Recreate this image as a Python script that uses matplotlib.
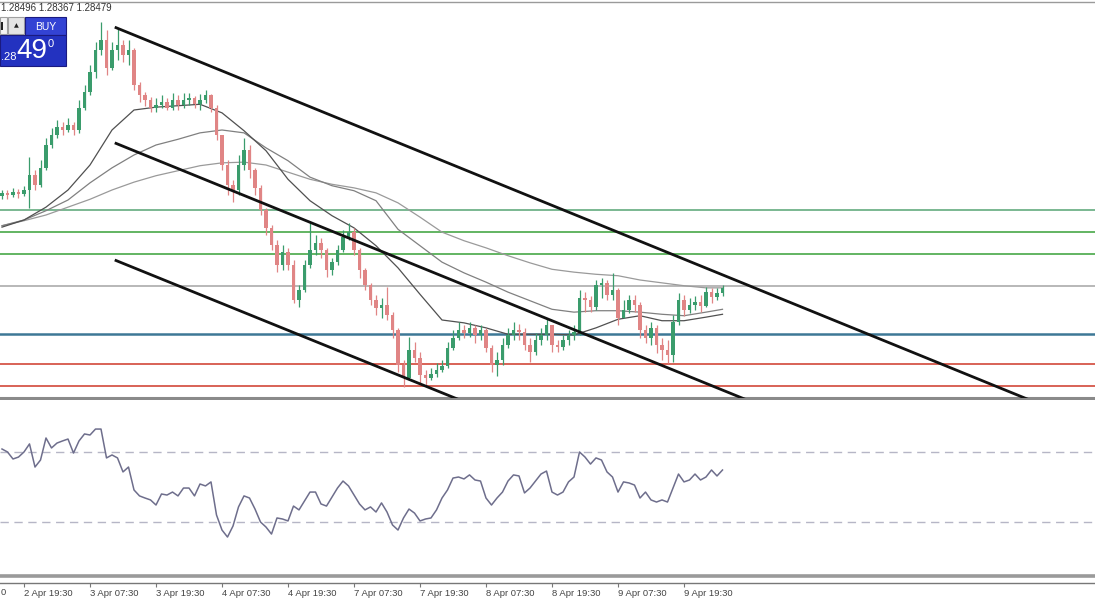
import numpy as np
import matplotlib
matplotlib.use("Agg")
import matplotlib.pyplot as plt
from matplotlib.patches import Rectangle

plt.rcParams['font.family'] = ['Liberation Sans', 'DejaVu Sans']

# GBPUSD hourly bars, bar 0 = 2 Apr 19:30, first bar = -4
first_open = 1.2981
closes = [
    1.2985, 1.2982, 1.2986, 1.2983, 1.2989, 1.3010, 1.2996, 1.3020, 1.3052, 1.3066,
    1.3077, 1.3073, 1.3080, 1.3073, 1.3104, 1.3126, 1.3154, 1.3185, 1.3199, 1.3160,
    1.3185, 1.3192, 1.3178, 1.3185, 1.3136, 1.3122, 1.3115, 1.3104, 1.3108, 1.3112,
    1.3104, 1.3115, 1.3108, 1.3115, 1.3118, 1.3109, 1.3115, 1.3122, 1.3104, 1.3066,
    1.3024, 1.2996, 1.2989, 1.3024, 1.3045, 1.3017, 1.2992, 1.2961, 1.2936, 1.2912,
    1.2884, 1.2902, 1.2884, 1.2835, 1.2849, 1.2884, 1.2905, 1.2915, 1.2905, 1.2877,
    1.2888, 1.2905, 1.2923, 1.2930, 1.2905, 1.2877, 1.2856, 1.2835, 1.2824, 1.2828,
    1.2814, 1.2793, 1.2744, 1.2726, 1.2765, 1.2754, 1.2730, 1.2726, 1.2731, 1.2737,
    1.2743, 1.2768, 1.2782, 1.2793, 1.2789, 1.2796, 1.2786, 1.2793, 1.2768, 1.2744,
    1.2751, 1.2772, 1.2786, 1.2793, 1.2790, 1.2772, 1.2762, 1.2779, 1.2786, 1.2800,
    1.2772, 1.2769, 1.2779, 1.2786, 1.2790, 1.2838, 1.2835, 1.2825, 1.2856, 1.2859,
    1.2842, 1.2849, 1.2810, 1.2821, 1.2835, 1.2828, 1.2793, 1.2782, 1.2796, 1.2772,
    1.2765, 1.2758, 1.2804, 1.2835, 1.2821, 1.2828, 1.2832, 1.2827, 1.2846, 1.2839,
    1.2845, 1.2852,
]
highs = [
    1.2989, 1.2989, 1.2992, 1.2990, 1.2995, 1.3035, 1.3017, 1.3031, 1.3062, 1.3076,
    1.3087, 1.3084, 1.3090, 1.3084, 1.3115, 1.3136, 1.3164, 1.3196, 1.3224, 1.3213,
    1.3196, 1.3216, 1.3199, 1.3199, 1.3188, 1.3140, 1.3126, 1.3119, 1.3118, 1.3122,
    1.3118, 1.3125, 1.3122, 1.3125, 1.3125, 1.3121, 1.3123, 1.3129, 1.3123, 1.3108,
    1.3066, 1.3031, 1.3003, 1.3038, 1.3062, 1.3052, 1.3020, 1.2996, 1.2964, 1.2940,
    1.2919, 1.2912, 1.2908, 1.2891, 1.2856, 1.2891, 1.2943, 1.2926, 1.2922, 1.2908,
    1.2894, 1.2912, 1.2933, 1.2943, 1.2936, 1.2908, 1.2880, 1.2859, 1.2842, 1.2838,
    1.2853, 1.2818, 1.2796, 1.2751, 1.2783, 1.2776, 1.2762, 1.2737, 1.2740, 1.2747,
    1.2751, 1.2776, 1.2793, 1.2804, 1.2800, 1.2804, 1.2800, 1.2800, 1.2796, 1.2772,
    1.2762, 1.2782, 1.2796, 1.2804, 1.2801, 1.2796, 1.2782, 1.2789, 1.2796, 1.2810,
    1.2800, 1.2779, 1.2786, 1.2793, 1.2800, 1.2849, 1.2846, 1.2841, 1.2863, 1.2866,
    1.2863, 1.2873, 1.2852, 1.2835, 1.2842, 1.2842, 1.2832, 1.2800, 1.2804, 1.2800,
    1.2782, 1.2779, 1.2814, 1.2845, 1.2842, 1.2838, 1.2841, 1.2842, 1.2853, 1.2852,
    1.2852, 1.2856,
]
lows = [
    1.2976, 1.2976, 1.2979, 1.2978, 1.2981, 1.2964, 1.2989, 1.2993, 1.3017, 1.3048,
    1.3062, 1.3066, 1.3070, 1.3066, 1.3069, 1.3101, 1.3122, 1.3146, 1.3178, 1.3150,
    1.3157, 1.3171, 1.3168, 1.3164, 1.3129, 1.3112, 1.3107, 1.3098, 1.3098, 1.3104,
    1.3101, 1.3101, 1.3101, 1.3104, 1.3108, 1.3104, 1.3101, 1.3111, 1.3098, 1.3059,
    1.3017, 1.2982, 1.2972, 1.2982, 1.3017, 1.3006, 1.2982, 1.2954, 1.2926, 1.2905,
    1.2874, 1.2877, 1.2877, 1.2831, 1.2825, 1.2846, 1.2880, 1.2898, 1.2894, 1.2867,
    1.2870, 1.2884, 1.2902, 1.2919, 1.2898, 1.2866, 1.2849, 1.2828, 1.2814, 1.2810,
    1.2807, 1.2782, 1.2734, 1.2713, 1.2723, 1.2748, 1.2716, 1.2715, 1.2723, 1.2727,
    1.2734, 1.2740, 1.2765, 1.2779, 1.2782, 1.2783, 1.2775, 1.2779, 1.2762, 1.2734,
    1.2729, 1.2744, 1.2768, 1.2779, 1.2779, 1.2765, 1.2748, 1.2758, 1.2772, 1.2779,
    1.2762, 1.2762, 1.2765, 1.2772, 1.2779, 1.2786, 1.2818, 1.2818, 1.2821, 1.2838,
    1.2835, 1.2835, 1.2800, 1.2810, 1.2817, 1.2818, 1.2782, 1.2775, 1.2772, 1.2761,
    1.2751, 1.2747, 1.2748, 1.2800, 1.2813, 1.2817, 1.2821, 1.2818, 1.2825, 1.2831,
    1.2835, 1.2841,
]
rsi = [
    71.7, 70.0, 66.0, 67.1, 70.0, 74.6, 61.4, 65.4, 78.0, 72.3,
    75.1, 76.3, 77.4, 69.4, 76.3, 80.3, 79.7, 83.1, 83.1, 66.6,
    68.3, 66.6, 58.6, 61.4, 48.3, 44.9, 43.7, 42.6, 39.7, 46.0,
    45.4, 47.1, 44.9, 49.4, 49.4, 44.9, 51.7, 50.6, 52.9, 34.0,
    25.4, 21.4, 27.7, 38.6, 44.9, 43.7, 37.4, 30.0, 27.1, 23.1,
    32.3, 31.7, 30.6, 39.1, 36.9, 42.0, 47.1, 47.1, 40.3, 39.1,
    44.3, 49.4, 53.4, 50.6, 45.4, 40.3, 36.9, 38.6, 35.7, 40.9,
    35.7, 28.3, 25.4, 32.3, 37.4, 35.1, 30.6, 31.7, 32.3, 36.9,
    43.7, 48.3, 55.1, 55.7, 54.6, 56.9, 54.0, 53.4, 43.7, 39.7,
    43.7, 47.1, 53.4, 56.9, 56.3, 46.6, 49.4, 53.4, 57.4, 59.1,
    47.1, 45.4, 47.1, 52.9, 55.7, 70.0, 67.1, 63.1, 66.6, 65.4,
    58.6, 55.7, 47.1, 52.9, 52.3, 51.1, 43.7, 47.1, 42.6, 41.4,
    42.6, 41.4, 49.4, 57.4, 52.9, 54.0, 57.4, 54.0, 55.7, 59.7,
    56.3, 59.7,
]

# moving averages, read every 4 bars
ma_bars = [-4, 0, 4, 8, 12, 16, 20, 24, 28, 32, 36, 40, 44, 48, 52, 56, 60,
           64, 68, 72, 76, 80, 84, 88, 92, 96, 100, 104, 108, 112, 116, 120, 124, 127]
ma_fast = [1.2937, 1.2947, 1.2965, 1.2989, 1.3024, 1.3073, 1.3101, 1.3105, 1.3107, 1.3109,
           1.3097, 1.3072, 1.3044, 1.3004, 1.2974, 1.2953, 1.2936, 1.2911, 1.2880, 1.2843,
           1.2807, 1.2803, 1.2796, 1.2787, 1.2787, 1.2787, 1.2786, 1.2796, 1.2808, 1.2813,
           1.2806, 1.2806, 1.2811, 1.2815]
ma_mid = [1.2939, 1.2947, 1.2960, 1.2975, 1.2999, 1.3020, 1.3038, 1.3052, 1.3060, 1.3069,
          1.3073, 1.3069, 1.3048, 1.3030, 1.3007, 1.2995, 1.2988, 1.2974, 1.2934, 1.2911,
          1.2888, 1.2873, 1.2860, 1.2846, 1.2834, 1.2822, 1.2818, 1.2820, 1.2820, 1.2818,
          1.2815, 1.2813, 1.2818, 1.2822]
ma_slow = [1.2939, 1.2946, 1.2954, 1.2965, 1.2976, 1.2989, 1.3000, 1.3009, 1.3016, 1.3023,
           1.3027, 1.3028, 1.3024, 1.3014, 1.3004, 1.2997, 1.2992, 1.2985, 1.2971, 1.2951,
           1.2930, 1.2918, 1.2908, 1.2897, 1.2887, 1.2878, 1.2874, 1.2871, 1.2869, 1.2863,
           1.2859, 1.2855, 1.2852, 1.2852]

green_levels = [1.2961, 1.2930, 1.2899]
grey_level = 1.2855
blue_level = 1.2787
red_levels = [1.2745, 1.2715]

# channel lines: (bar, price) start -> end
channel = [
    ((16.5, 1.3217), (183.8, 1.2692)),
    ((16.5, 1.3055), (132.4, 1.2692)),
    ((16.5, 1.2891), (80.2, 1.2692)),
]

rsi_levels = [70, 30]

tick_pos = [0, 12, 24, 36, 48, 60, 72, 84, 96, 108, 120]
tick_labels = ["2 Apr 19:30", "3 Apr 07:30", "3 Apr 19:30", "4 Apr 07:30",
               "4 Apr 19:30", "7 Apr 07:30", "7 Apr 19:30", "8 Apr 07:30",
               "8 Apr 19:30", "9 Apr 07:30", "9 Apr 19:30"]

W, H = 1095, 600
fig = plt.figure(figsize=(W / 100, H / 100), dpi=100)
xlim = (-24 / 5.5, (W - 24) / 5.5)


def box(top, bottom):
    return [0, 1 - bottom / H, 1, (bottom - top) / H]


# ---- main price window
ax = fig.add_axes(box(2, 398))
ax.set_xlim(*xlim)
ax.set_ylim(1.32522 - 0.00014 * 396, 1.32522)

n = min(len(closes), len(highs), len(lows))
x = np.arange(-4, -4 + n)
c = np.array(closes[:n])
o = np.r_[first_open, c[:-1]]
up = c >= o
cols = np.where(up, '#3a9c6c', '#e08585')

for lv, col in zip(green_levels, ['#7ab892', '#62b462', '#62b462']):
    ax.axhline(lv, color=col, lw=1.4, zorder=1)
ax.axhline(grey_level, color='#b8b8b8', lw=1.4, zorder=1)
ax.axhline(blue_level, color='#3d7896', lw=1.8, zorder=1)
for lv in red_levels:
    ax.axhline(lv, color='#d2483a', lw=1.2, zorder=1)

ax.plot(ma_bars, ma_slow, color='#9a9a9a', lw=0.9, zorder=2)
ax.plot(ma_bars, ma_mid, color='#808080', lw=0.9, zorder=2)
ax.plot(ma_bars, ma_fast, color='#505050', lw=0.9, zorder=2)

ax.vlines(x, lows[:n], highs[:n], colors=cols, lw=0.9, zorder=3)
ax.bar(x, np.maximum(np.abs(c - o), 0.00007), bottom=np.minimum(o, c),
       width=0.55, color=cols, linewidth=0, zorder=4)

for (x0, y0), (x1, y1) in channel:
    ax.plot([x0, x1], [y0, y1], color='#111111', lw=2, solid_capstyle='butt', zorder=5)

ax.set_xticks([])
ax.set_yticks([])
for s in ['left', 'right']:
    ax.spines[s].set_visible(False)
ax.spines['top'].set_color('#9a9a9a')
ax.spines['top'].set_linewidth(1)
ax.spines['bottom'].set_color('#8a8a8a')
ax.spines['bottom'].set_linewidth(2.2)

# ---- RSI window
ax2 = fig.add_axes(box(400, 576))
ax2.set_xlim(*xlim)
ax2.set_ylim(-0.86, 99.7)
for lv in rsi_levels:
    ax2.axhline(lv, color='#b6b6c6', lw=1, dashes=(6, 4))
ax2.plot(np.arange(-4, -4 + len(rsi)), rsi, color='#6e6e8c', lw=1.1)
ax2.set_xticks([])
ax2.set_yticks([])
for s in ['left', 'right', 'top']:
    ax2.spines[s].set_visible(False)
ax2.spines['bottom'].set_color('#9a9a9a')
ax2.spines['bottom'].set_linewidth(2.6)

# ---- time scale
ax3 = fig.add_axes([0, 1 - 583 / H, 1, 0.5 / H])
ax3.set_xlim(*xlim)
ax3.set_yticks([])
for s in ['left', 'right', 'top']:
    ax3.spines[s].set_visible(False)
ax3.spines['bottom'].set_color('#777777')
ax3.spines['bottom'].set_linewidth(1)
ax3.set_xticks(tick_pos)
ax3.set_xticklabels(tick_labels, fontsize=6.8, color='#444444')
ax3.tick_params(axis='x', length=3, width=0.8, color='#777777', pad=1.2)
for lab in ax3.get_xticklabels():
    lab.set_ha('left')
ax3.patch.set_alpha(0)

# ---- one-click trading panel, quote line, cut label tail (pixel overlay)
ov = fig.add_axes([0, 0, 1, 1])
ov.set_xlim(0, W)
ov.set_ylim(H, 0)
ov.axis('off')
ov.patch.set_alpha(0)
ov.text(0.5, 592.5, "0", fontsize=6.8, color='#444444', va='center', ha='left')
ov.text(1, 8, "1.28496 1.28367 1.28479", fontsize=7, color='#333333', va='center', ha='left')
ov.add_patch(Rectangle((0, 17), 7, 17, facecolor='#f4f4f4', edgecolor='#a0a0a0', lw=0.8))
ov.add_patch(Rectangle((1, 22), 1.6, 8, facecolor='#222222', edgecolor='none'))
ov.add_patch(Rectangle((8, 17), 16, 17, facecolor='#e4e4e4', edgecolor='#a0a0a0', lw=0.8))
ov.text(16, 25.5, "\u25B2", fontsize=4.5, color='#222222', ha='center', va='center',
        family='DejaVu Sans')
ov.add_patch(Rectangle((25, 17), 41, 18, facecolor='#3343d4', edgecolor='#1a1a80', lw=0.8))
ov.add_patch(Rectangle((0, 35), 66, 31, facecolor='#2332c0', edgecolor='#1a1a80', lw=0.8))
ov.text(45.5, 26.5, "BUY", fontsize=7.5, color='white', ha='center', va='center')
ov.text(0.5, 56.5, ".28", fontsize=8, color='white', ha='left', va='center')
ov.text(32, 51, "49", fontsize=20, color='white', ha='center', va='center')
ov.text(51, 44, "0", fontsize=8, color='white', ha='center', va='center')

fig.savefig('out.png', dpi=100)
